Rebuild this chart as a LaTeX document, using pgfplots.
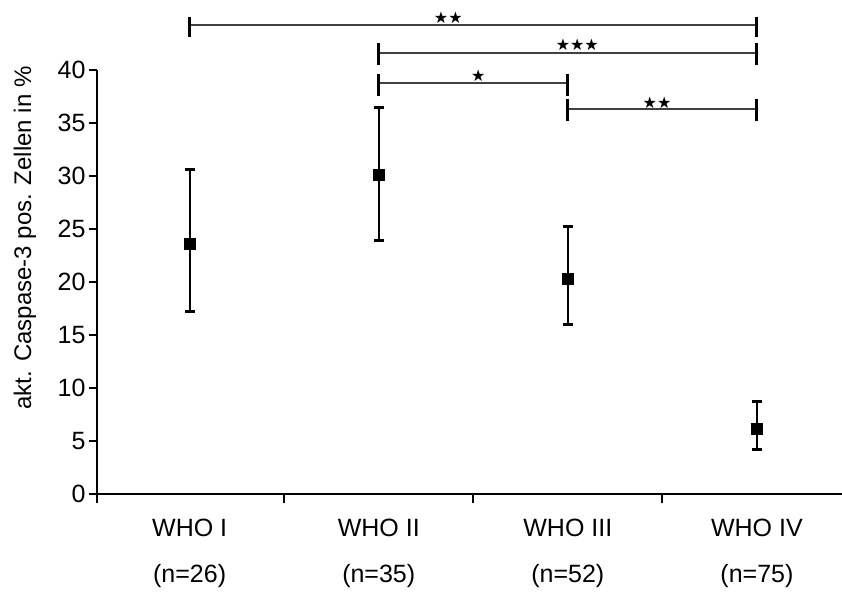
\documentclass[border=0pt]{standalone}
\usepackage{pgfplots}
\pgfplotsset{compat=1.18}
\usepackage{fontspec}
\setmainfont{Liberation Sans}
\newfontfamily\symfont{DejaVu Sans}
\newcommand{\st}{{\symfont ★}}
\begin{document}
\begin{tikzpicture}
\begin{axis}[
 scale only axis, width=745pt, height=424pt,
 xmin=-0.49, xmax=3.45, ymin=0, ymax=40,
 clip=false,
 axis x line*=bottom, axis y line*=left,
 axis line style={line width=1.8pt, -},
 tick pos=left,
 xtick={0,1,2,3},
 xticklabels={{WHO I\\(n=26)},{WHO II\\(n=35)},{WHO III\\(n=52)},{WHO IV\\(n=75)}},
 minor xtick={-0.49,0.5,1.5,2.5},
 major x tick style={draw=none},
 minor x tick style={line width=1.8pt, black},
 minor tick length=9pt,
 ytick={0,5,...,40},
 major tick length=8pt,
 tick align=outside,
 y tick style={line width=1.8pt, black},
 tick label style={font=\fontsize{25}{46}\selectfont},
 xticklabel style={align=center, yshift=-14pt},
 /pgf/number format/assume math mode=true,
 ylabel={akt. Caspase-3 pos. Zellen in \%},
 ylabel style={font=\fontsize{24}{29}\selectfont, at={(axis description cs:-0.0966,0.604)}, anchor=center},
]
\addplot[only marks, mark=square*, mark size=5.5pt, black,
 error bars/.cd, y dir=both, y explicit,
 error bar style={line width=1.8pt},
 error mark options={rotate=90, line width=3pt, mark size=5pt}]
 coordinates {
 (0,23.58) += (0,7.05) -= (0,6.32)
 (1,30.16) += (0,6.28) -= (0,6.20)
 (2,20.35) += (0,4.87) -= (0,4.35)
 (3,6.20) += (0,2.51) -= (0,1.99)
 };
% significance brackets
\draw[line width=1.3pt, black!75] (axis cs:0,44.25) -- (axis cs:3,44.25);
\draw[line width=3pt] (axis cs:0,45.0) -- (axis cs:0,43.1);
\draw[line width=3pt] (axis cs:3,45.0) -- (axis cs:3,43.1);
\node[anchor=center, inner sep=0pt, font=\fontsize{16}{17}\selectfont] at (axis cs:1.368,44.93) {\st\st};
\draw[line width=1.3pt, black!75] (axis cs:1,41.6) -- (axis cs:3,41.6);
\draw[line width=3pt] (axis cs:1,42.55) -- (axis cs:1,40.47);
\draw[line width=3pt] (axis cs:3,42.55) -- (axis cs:3,40.47);
\node[anchor=center, inner sep=0pt, font=\fontsize{16}{17}\selectfont] at (axis cs:2.05,42.36) {\st\st\st};
\draw[line width=1.3pt, black!75] (axis cs:1,38.77) -- (axis cs:2,38.77);
\draw[line width=3pt] (axis cs:1,39.62) -- (axis cs:1,37.55);
\draw[line width=3pt] (axis cs:2,39.62) -- (axis cs:2,37.55);
\node[anchor=center, inner sep=0pt, font=\fontsize{16}{17}\selectfont] at (axis cs:1.527,39.43) {\st};
\draw[line width=1.3pt, black!75] (axis cs:2,36.32) -- (axis cs:3,36.32);
\draw[line width=3pt] (axis cs:2,37.26) -- (axis cs:2,35.19);
\draw[line width=3pt] (axis cs:3,37.26) -- (axis cs:3,35.19);
\node[anchor=center, inner sep=0pt, font=\fontsize{16}{17}\selectfont] at (axis cs:2.472,36.9) {\st\st};
\end{axis}
\pgfresetboundingbox
\path (-97pt,-100pt) rectangle (745pt,494pt);
\end{tikzpicture}
\end{document}
